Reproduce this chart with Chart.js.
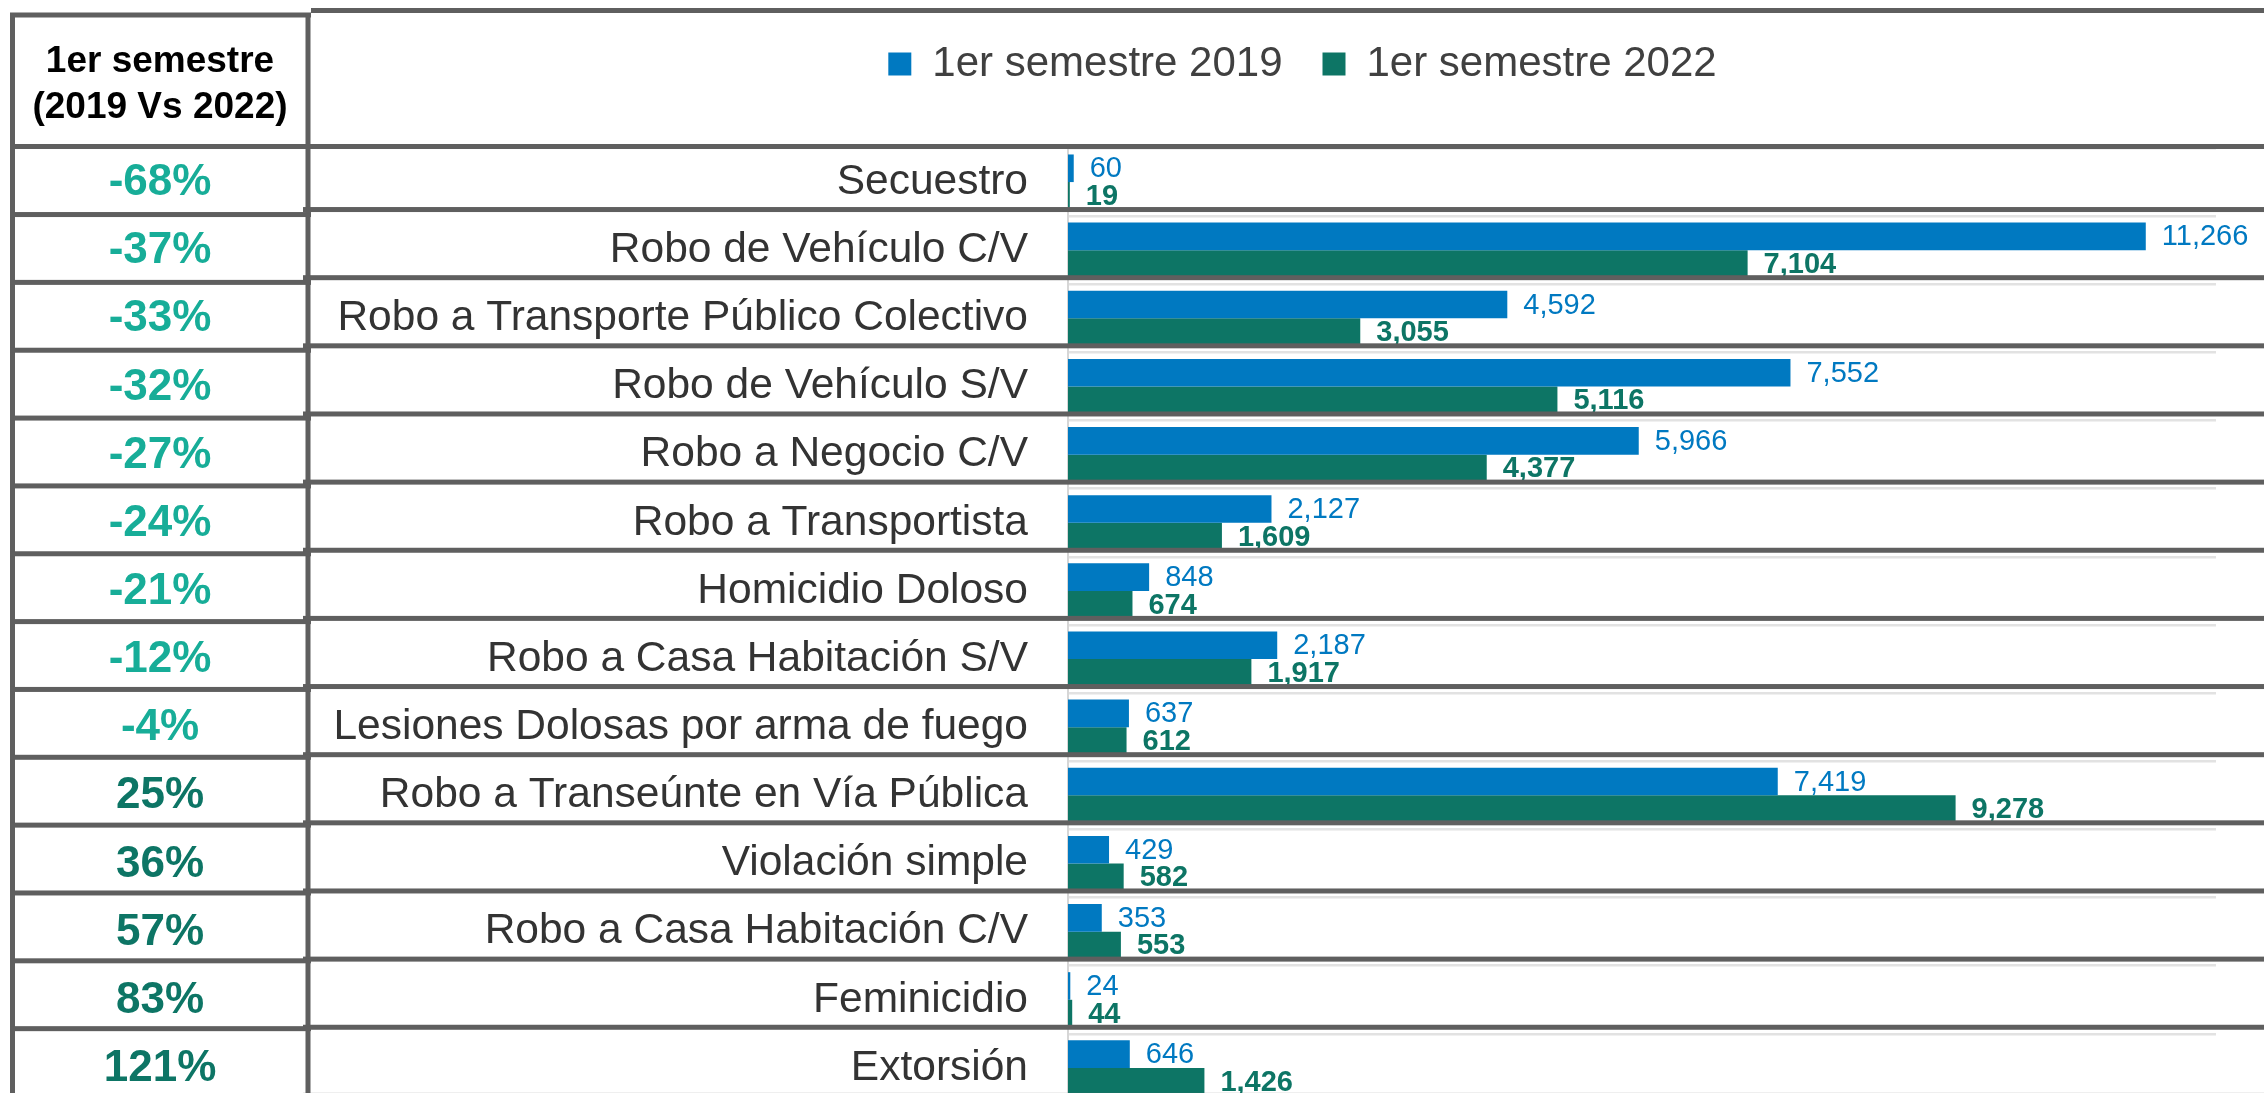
<!DOCTYPE html>
<html>
<head>
<meta charset="utf-8">
<script src="https://cdn.jsdelivr.net/npm/chart.js@4.4.1/dist/chart.umd.min.js"></script>
<style>
html,body{margin:0;padding:0;background:#ffffff;overflow:hidden;}
canvas{display:block;}
</style>
</head>
<body>
<canvas id="c" width="2264" height="1102"></canvas>
<script>
// ---------- data ----------
const categories = [
  'Secuestro',
  'Robo de Vehículo C/V',
  'Robo a Transporte Público Colectivo',
  'Robo de Vehículo S/V',
  'Robo a Negocio C/V',
  'Robo a Transportista',
  'Homicidio Doloso',
  'Robo a Casa Habitación S/V',
  'Lesiones Dolosas por arma de fuego',
  'Robo a Transeúnte en Vía Pública',
  'Violación simple',
  'Robo a Casa Habitación C/V',
  'Feminicidio',
  'Extorsión'
];
const values2019 = [60, 11266, 4592, 7552, 5966, 2127, 848, 2187, 637, 7419, 429, 353, 24, 646];
const values2022 = [19, 7104, 3055, 5116, 4377, 1609, 674, 1917, 612, 9278, 582, 553, 44, 1426];
const changePct  = [-68, -37, -33, -32, -27, -24, -21, -12, -4, 25, 36, 57, 83, 121];
const seriesLabels = ['1er semestre 2019', '1er semestre 2022'];
const headerLines = ['1er semestre', '(2019 Vs 2022)'];
const xMin = 0;
const xMax = 12000;

// ---------- styles ----------
const FONT = '"Liberation Sans", Arial, Helvetica, sans-serif';
const BLUE = '#0079c1';
const GREEN = '#0d7565';
const NEG_COLOR = '#17ad98';
const POS_COLOR = '#0d7565';
const LINE = '#5f5f5f';

// let the long category labels extend past the y-scale box without clipping
const labelArea = {
  id: 'labelArea',
  afterLayout(chart) {
    chart.scales.y.left = 300;
  }
};

const valueLabels = {
  id: 'valueLabels',
  afterDatasetsDraw(chart) {
    const ctx = chart.ctx;
    ctx.save();
    ctx.textAlign = 'left';
    ctx.textBaseline = 'middle';
    chart.data.datasets.forEach((ds, di) => {
      const meta = chart.getDatasetMeta(di);
      ctx.font = (di === 1 ? 'bold ' : '') + '29px ' + FONT;
      ctx.fillStyle = di === 0 ? BLUE : GREEN;
      meta.data.forEach((el, i) => {
        ctx.fillText(ds.data[i].toLocaleString('en-US'), el.x + 16, el.y + 1);
      });
    });
    ctx.restore();
  }
};

const tableFrame = {
  id: 'tableFrame',
  afterDraw(chart) {
    const ctx = chart.ctx;
    const y = chart.scales.y;
    const W = chart.width, H = chart.height;
    const n = categories.length;
    const band = y.getPixelForValue(1) - y.getPixelForValue(0);
    const top = chart.chartArea.top;
    ctx.save();
    ctx.fillStyle = LINE;
    const hl = (x0, x1, yc) => ctx.fillRect(x0, yc - 2.5, x1 - x0, 5);
    const vl = (xc, y0, y1) => ctx.fillRect(xc - 2.5, y0, 5, y1 - y0);
    // left table frame
    hl(10, 311, 15);
    vl(12.5, 13, H);
    vl(308, 13, H);
    // right area top line
    hl(311, W, 10.5);
    // header bottom line
    hl(10, W, top - 1.5);
    for (let i = 0; i < n; i++) {
      const b = y.getPixelForValue(i) + band / 2;
      const rl = b - 6.6;
      hl(303, W, rl);
      hl(10, 311, rl + 5 - 0.3 * i);
    }
    // header text
    ctx.textAlign = 'center';
    ctx.textBaseline = 'middle';
    ctx.fillStyle = '#000000';
    ctx.font = 'bold 37px ' + FONT;
    ctx.fillText(headerLines[0], 160, 62);
    ctx.fillText(headerLines[1], 160, 108);
    // percentage column
    ctx.font = 'bold 44px ' + FONT;
    changePct.forEach((p, i) => {
      ctx.fillStyle = p < 0 ? NEG_COLOR : POS_COLOR;
      ctx.fillText(p + '%', 160, y.getPixelForValue(i) + 1);
    });
    ctx.restore();
  }
};

new Chart(document.getElementById('c'), {
  type: 'bar',
  data: {
    labels: categories,
    datasets: [
      { label: seriesLabels[0], data: values2019, backgroundColor: BLUE, borderColor: BLUE, borderWidth: 0 },
      { label: seriesLabels[1], data: values2022, backgroundColor: GREEN, borderColor: GREEN, borderWidth: 0 }
    ]
  },
  options: {
    indexAxis: 'y',
    responsive: false,
    animation: false,
    devicePixelRatio: 1,
    layout: { padding: { left: 389, right: 48, top: 3, bottom: 0 }, autoPadding: false },
    datasets: { bar: { categoryPercentage: 0.81, barPercentage: 1.0 } },
    plugins: {
      legend: {
        display: true,
        position: 'top',
        align: 'center',
        labels: {
          font: { family: FONT, size: 42 },
          color: '#404040',
          boxWidth: 23,
          boxHeight: 23,
          padding: 40
        }
      },
      tooltip: { enabled: false }
    },
    scales: {
      x: {
        position: 'top',
        min: xMin,
        max: xMax,
        grid: { display: false },
        border: { display: false },
        ticks: { display: false },
        afterFit(s) { s.height = 53; s.paddingLeft = 0; s.paddingRight = 0; s.paddingTop = 0; s.paddingBottom = 0; }
      },
      y: {
        offset: true,
        grid: { color: '#e2e2e2', lineWidth: 2.5, drawTicks: false, offset: true },
        border: { display: true, color: '#d6d6d6', width: 2 },
        ticks: { font: { family: FONT, size: 42.5 }, color: '#333333', padding: 40, autoSkip: false },
        afterFit(s) { s.width = 1068 - 389; s.paddingTop = 0; s.paddingBottom = 0; }
      }
    }
  },
  plugins: [labelArea, valueLabels, tableFrame]
});
</script>
</body>
</html>
